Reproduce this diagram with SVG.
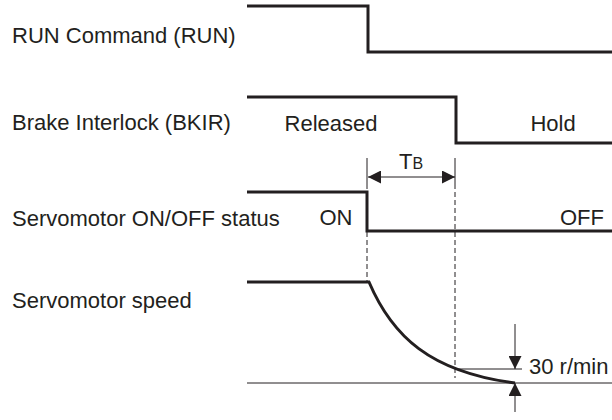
<svg xmlns="http://www.w3.org/2000/svg" width="612" height="420" viewBox="0 0 612 420">
<defs>
<style>
.lbl{font-family:"Liberation Sans",Arial,sans-serif;font-size:22px;fill:#231f20}
.sig{fill:none;stroke:#231f20;stroke-width:3;stroke-linejoin:miter}
.thin{fill:none;stroke:#231f20;stroke-width:1}
.dash{fill:none;stroke:#231f20;stroke-width:1;stroke-dasharray:5,3}
</style>
<marker id="ah" viewBox="0 0 10 10" refX="10" refY="5" markerWidth="17" markerHeight="13" markerUnits="userSpaceOnUse" orient="auto-start-reverse"><path d="M0,0 L10,5 L0,10 Z" fill="#231f20"/></marker>
</defs>
<g id="labels">
<text class="lbl" x="12" y="43">RUN Command (RUN)</text>
<text class="lbl" x="12" y="130">Brake Interlock (BKIR)</text>
<text class="lbl" x="12" y="226">Servomotor ON/OFF status</text>
<text class="lbl" x="12" y="308">Servomotor speed</text>
</g>
<g id="run"><path class="sig" d="M247,6 H368 V52 H612"/></g>
<g id="bkir"><path class="sig" d="M247,97 H456 V143 H612"/>
<text class="lbl" x="331" y="131" text-anchor="middle">Released</text>
<text class="lbl" x="553" y="131" text-anchor="middle">Hold</text></g>
<g id="servo"><path class="sig" d="M247,192 H367 V231 H612"/>
<text class="lbl" x="336" y="225" text-anchor="middle">ON</text>
<text class="lbl" x="582" y="225" text-anchor="middle">OFF</text></g>
<g id="speed"><path class="sig" d="M247,282 H369 C392,336 430,372 515,383"/>
<path class="thin" d="M247,383 H612"/></g>
<g id="connectors">
<path class="thin" d="M367,158 V184"/>
<path class="thin" d="M455,158 V184"/>
<path class="dash" d="M367,184 V282"/>
<path class="dash" d="M455,184 V378"/>
<path class="thin" d="M368,177 H455" marker-start="url(#ah)" marker-end="url(#ah)"/>
<path class="thin" d="M455,369 H522"/>
<path class="thin" d="M515,324 V369" marker-end="url(#ah)"/>
<path class="thin" d="M515,412 V383" marker-end="url(#ah)"/>
<text class="lbl" x="399" y="169">T<tspan font-size="16">B</tspan></text>
<text class="lbl" x="529" y="374">30 r/min</text>
</g>
</svg>
